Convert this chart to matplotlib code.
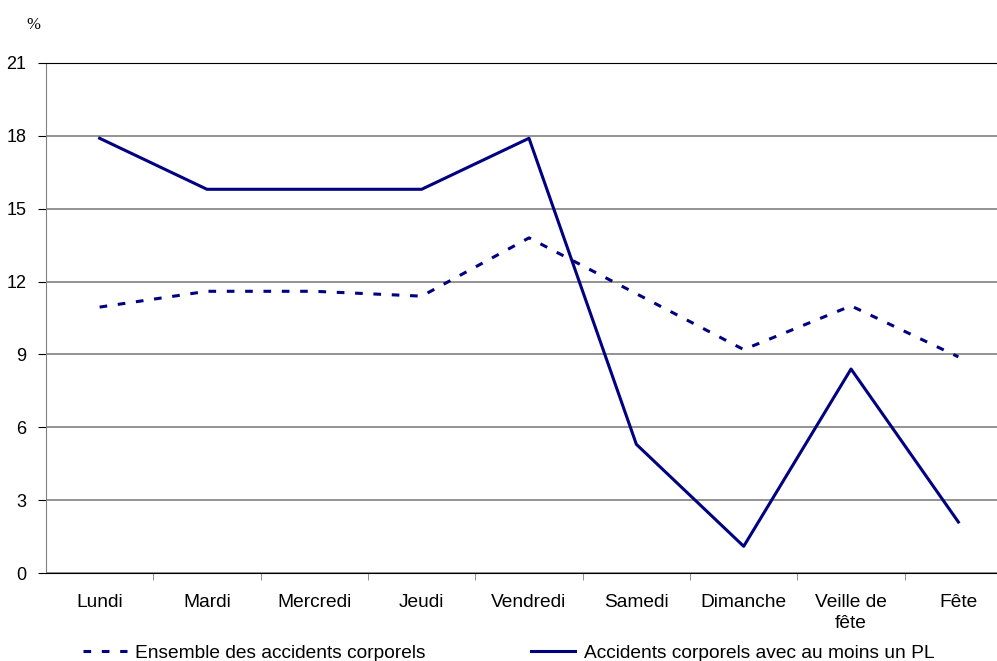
import matplotlib.pyplot as plt
import numpy as np

# categories et valeurs (en %)
jours = ['Lundi', 'Mardi', 'Mercredi', 'Jeudi', 'Vendredi', 'Samedi',
         'Dimanche', 'Veille de\nfête', 'Fête']
ensemble = [10.95, 11.6, 11.6, 11.4, 13.8, 11.5, 9.2, 11.0, 8.9]
avec_pl = [17.9, 15.8, 15.8, 15.8, 17.9, 5.3, 1.1, 8.4, 2.1]
yticks = [0, 3, 6, 9, 12, 15, 18, 21]

plt.rcParams['font.family'] = ['Liberation Sans', 'DejaVu Sans']
navy = '#000080'

fig = plt.figure(figsize=(9.97, 6.61), dpi=100)
ax = fig.add_axes([0.0461, 0.1331, 0.969, 0.7716])

x = np.arange(len(jours))
ax.plot(x, ensemble, color=navy, lw=2.2, dashes=(2.5, 3.5),
        label='Ensemble des accidents corporels')
ax.plot(x, avec_pl, color=navy, lw=2.2,
        label='Accidents corporels avec au moins un PL')

ax.set_xlim(-0.5, len(jours) - 0.5)
ax.set_ylim(0, 21)
ax.set_yticks(yticks)
ax.set_yticklabels([str(v) for v in yticks], fontsize=13)
ax.set_xticks(x)
ax.set_xticklabels(jours, fontsize=13.8, linespacing=1.3, va='top')
ax.set_xticks(np.arange(0.5, len(jours) - 1, 1), minor=True)
ax.tick_params(axis='x', which='major', length=0, pad=15)
ax.tick_params(axis='x', which='minor', length=5, color='#808080', direction='out')
ax.tick_params(axis='y', length=6, color='black', pad=8)

ax.yaxis.grid(True, color='#808080', lw=1.2)
ax.set_axisbelow(True)
ax.spines['right'].set_visible(False)
ax.spines['left'].set_color('#808080')
ax.spines['top'].set_color('black')
ax.spines['bottom'].set_color('black')

fig.text(0.033, 0.962, '%', fontsize=12, family='Liberation Serif',
         ha='center', va='center')

fig.legend(loc='center left', bbox_to_anchor=(0.083, 0.012), ncol=2, frameon=False,
           fontsize=13.8, handlelength=2.3, handletextpad=0.45, columnspacing=5.5,
           borderaxespad=0, borderpad=0)

fig.savefig('out.png', dpi=100)
